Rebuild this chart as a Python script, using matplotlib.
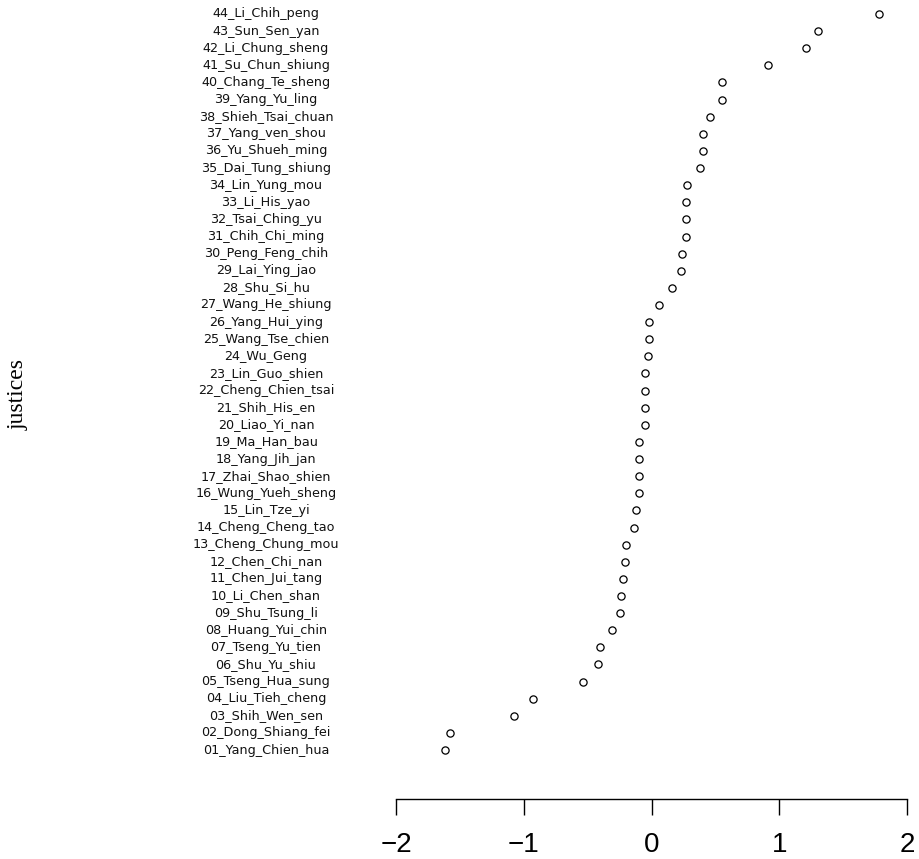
import matplotlib
matplotlib.use("Agg")
import matplotlib.pyplot as plt

justices = [
    "01_Yang_Chien_hua", "02_Dong_Shiang_fei", "03_Shih_Wen_sen", "04_Liu_Tieh_cheng",
    "05_Tseng_Hua_sung", "06_Shu_Yu_shiu", "07_Tseng_Yu_tien", "08_Huang_Yui_chin",
    "09_Shu_Tsung_li", "10_Li_Chen_shan", "11_Chen_Jui_tang", "12_Chen_Chi_nan",
    "13_Cheng_Chung_mou", "14_Cheng_Cheng_tao", "15_Lin_Tze_yi", "16_Wung_Yueh_sheng",
    "17_Zhai_Shao_shien", "18_Yang_Jih_jan", "19_Ma_Han_bau", "20_Liao_Yi_nan",
    "21_Shih_His_en", "22_Cheng_Chien_tsai", "23_Lin_Guo_shien", "24_Wu_Geng",
    "25_Wang_Tse_chien", "26_Yang_Hui_ying", "27_Wang_He_shiung", "28_Shu_Si_hu",
    "29_Lai_Ying_jao", "30_Peng_Feng_chih", "31_Chih_Chi_ming", "32_Tsai_Ching_yu",
    "33_Li_His_yao", "34_Lin_Yung_mou", "35_Dai_Tung_shiung", "36_Yu_Shueh_ming",
    "37_Yang_ven_shou", "38_Shieh_Tsai_chuan", "39_Yang_Yu_ling", "40_Chang_Te_sheng",
    "41_Su_Chun_shiung", "42_Li_Chung_sheng", "43_Sun_Sen_yan", "44_Li_Chih_peng",
]
scores = [
    -1.62, -1.58, -1.08, -0.93, -0.54, -0.42, -0.40, -0.31, -0.25, -0.24, -0.22,
    -0.21, -0.20, -0.14, -0.12, -0.10, -0.10, -0.10, -0.10, -0.05, -0.05, -0.05,
    -0.05, -0.03, -0.02, -0.02, 0.06, 0.16, 0.23, 0.24, 0.27, 0.27, 0.27, 0.28,
    0.38, 0.40, 0.40, 0.46, 0.55, 0.55, 0.91, 1.21, 1.30, 1.78,
]
xticks = [-2, -1, 0, 1, 2]
ylabel_text = "justices"

W, H = 919, 859
fig = plt.figure(figsize=(W / 100, H / 100), dpi=100)
left_px, right_px = 396, 907
top_px, bot_px = 5.44, 758.6
ax = fig.add_axes([left_px / W, 1 - bot_px / H, (right_px - left_px) / W, (bot_px - top_px) / H])

pos = list(range(1, len(justices) + 1))
ax.plot(scores, pos, linestyle="none", marker="o", markersize=5.2,
        markerfacecolor="none", markeredgecolor="black", markeredgewidth=0.9)

ax.set_xlim(-2, 2)
ax.set_ylim(0.5, len(justices) + 0.5)

for s in ["top", "right", "left"]:
    ax.spines[s].set_visible(False)
ax.spines["bottom"].set_position(("outward", (799 - bot_px) * 0.72))
ax.spines["bottom"].set_bounds(-2, 2)
ax.spines["bottom"].set_linewidth(1.0)
ax.set_xticks(xticks)
ax.set_xticklabels([f"{t}".replace("-", "\u2212") for t in xticks],
                   fontfamily="Liberation Sans", fontsize=20)
ax.tick_params(axis="x", direction="out", length=11.5, width=1.0, pad=12)
ax.set_yticks([])

# name labels, centered
label_x_px = 266
for p, name in zip(pos, justices):
    ax.text(label_x_px / W, p, name, transform=ax.get_yaxis_transform().__class__(fig.transFigure, ax.transData),
            ha="center", va="center", fontsize=9.2, fontfamily="DejaVu Sans", color="#111111")

fig.text(18 / W, 1 - 395 / H, ylabel_text, rotation=90, ha="center", va="center",
         fontsize=17, fontfamily="Liberation Serif")

fig.savefig("out.png", dpi=100)
